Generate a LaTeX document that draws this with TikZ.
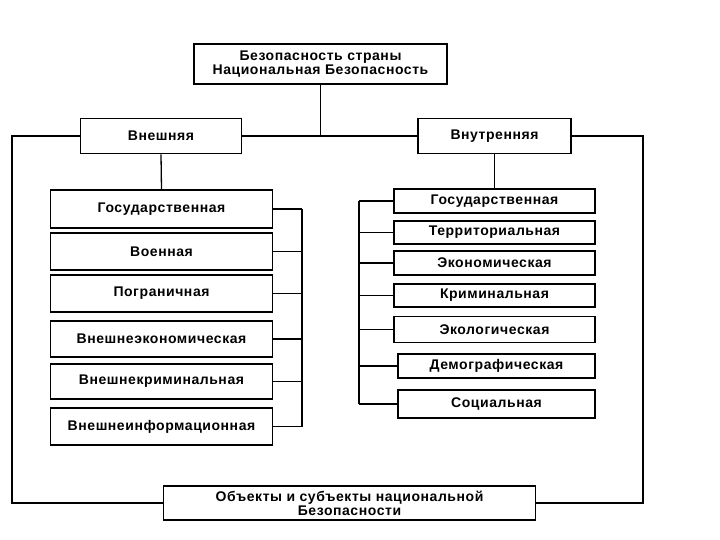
\documentclass[tikz,border=0pt]{standalone}
\usepackage{fontspec}
\newfontfamily\boxfont[LetterSpace=4]{Liberation Sans Bold}
\usetikzlibrary{positioning}

\begin{document}
\begin{tikzpicture}[x=1pt,y=-1pt,
    box/.style={draw,line width=1.6pt,inner sep=0pt,align=center,font=\boxfont\fontsize{14}{14}\selectfont},
    link/.style={line width=1.3pt}
]
\useasboundingbox (0,0) rectangle (720,540);
% top
\node[box,minimum width=253pt,minimum height=40pt] (top) at (320.5,64) {Безопасность страны\\Национальная Безопасность};
\node[box,minimum width=161pt,minimum height=35pt] (vnesh) at (161,136) {Внешняя};
\node[box,minimum width=153pt,minimum height=35pt] (vnutr) at (494.5,136) {Внутренняя};
\node[box,minimum width=372pt,minimum height=34pt] (bot) at (349.5,503) {Объекты и субъекты национальной\\Безопасности};
% left column
\node[box,minimum width=222pt,minimum height=38pt] (l1) at (161.5,209) {Государственная};
\node[box,minimum width=222pt,minimum height=37pt] (l2) at (161.5,251.5) {Военная};
\node[box,minimum width=222pt,minimum height=37pt] (l3) at (161.5,293.5) {Пограничная};
\node[box,minimum width=222pt,minimum height=36pt] (l4) at (161.5,339) {Внешнеэкономическая};
\node[box,minimum width=222pt,minimum height=35pt] (l5) at (161.5,381.5) {Внешнекриминальная};
\node[box,minimum width=222pt,minimum height=37pt] (l6) at (161.5,426.5) {Внешнеинформационная};
% right column
\node[box,minimum width=201pt,minimum height=24pt] (r1) at (494.5,201) {Государственная};
\node[box,minimum width=201pt,minimum height=23pt] (r2) at (494.5,232.5) {Территориальная};
\node[box,minimum width=201pt,minimum height=24pt] (r3) at (494.5,263) {Экономическая};
\node[box,minimum width=201pt,minimum height=23pt] (r4) at (494.5,295.5) {Криминальная};
\node[box,minimum width=201pt,minimum height=26pt] (r5) at (494.5,329.5) {Экологическая};
\node[box,minimum width=197pt,minimum height=24pt] (r6) at (496.5,366) {Демографическая};
\node[box,minimum width=197pt,minimum height=28pt] (r7) at (496.5,404) {Социальная};
\coordinate (lbar) at (302,0);
\coordinate (rbar) at (359,0);
\coordinate (lc) at (12,503);
\coordinate (rc) at (643,503);

\draw[link] (top.south) -- (top.south |- vnesh.east);
\draw[link] (vnesh.east) -- (vnutr.west);
\draw[link] (vnesh.west) -| (lc) -- (bot.west);
\draw[link] (vnutr.east) -| (rc) -- (bot.east);
\draw[link] (vnesh.south) -- (l1.north);
\draw[link] (vnutr.south) -- (r1.north);
\foreach \b in {l1,l2,l3,l4,l5,l6}
    \draw[link] (\b.east) -- (\b.east -| lbar);
\draw[link] (lbar |- l1.east) -- (lbar |- l6.east);
\foreach \b in {r1,r2,r3,r4,r5,r6,r7}
    \draw[link] (\b.west) -- (\b.west -| rbar);
\draw[link] (rbar |- r1.west) -- (rbar |- r7.west);
\end{tikzpicture}
\end{document}
